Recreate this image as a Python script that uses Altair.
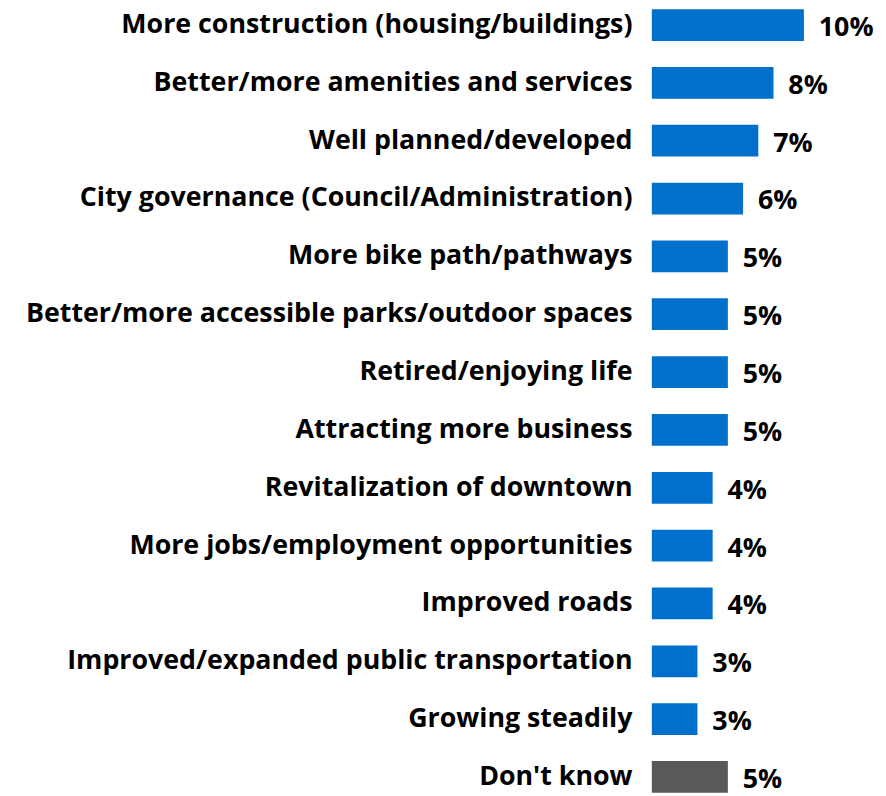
import altair as alt
import pandas as pd

categories = [
    "More construction (housing/buildings)",
    "Better/more amenities and services",
    "Well planned/developed",
    "City governance (Council/Administration)",
    "More bike path/pathways",
    "Better/more accessible parks/outdoor spaces",
    "Retired/enjoying life",
    "Attracting more business",
    "Revitalization of downtown",
    "More jobs/employment opportunities",
    "Improved roads",
    "Improved/expanded public transportation",
    "Growing steadily",
    "Don't know",
]
values = [10, 8, 7, 6, 5, 5, 5, 5, 4, 4, 4, 3, 3, 5]
groups = ["main"] * 13 + ["dk"]

df = pd.DataFrame({"cat": categories, "val": values, "grp": groups})
df["label"] = df["val"].astype(str) + "%"

FONT = "Open Sans"

y = alt.Y(
    "cat:N",
    sort=categories,
    title=None,
    scale=alt.Scale(paddingInner=0.451, paddingOuter=0, range=[0, 790]),
    axis=alt.Axis(
        labelFont=FONT,
        labelFontSize=27,
        labelFontWeight="bold",
        labelColor="#000000",
        labelLimit=700,
        labelPadding=20,
        ticks=False,
        domain=False,
        labelOffset=-4,
    ),
)
x = alt.X("val:Q", title=None, axis=None, scale=alt.Scale(domain=[0, 14.35], nice=False))

bars = alt.Chart(df).mark_bar(yOffset=-4).encode(
    x=x,
    y=y,
    color=alt.Color(
        "grp:N",
        scale=alt.Scale(domain=["main", "dk"], range=["#0070CC", "#58595B"]),
        legend=None,
    ),
)

text = alt.Chart(df).mark_text(
    align="left", baseline="middle", dx=15, dy=-1,
    font=FONT, fontSize=27, fontWeight="bold", color="#000000",
).encode(x=x, y=y, text="label:N")

chart = (
    alt.layer(bars, text)
    .properties(
        width=220,
        height=786,
        autosize=alt.AutoSizeParams(type="none"),
        padding={"left": 649, "top": 2, "right": 8, "bottom": 0},
    )
    .configure_view(stroke=None)
)

chart.save("out.html", embed_options={"renderer": "svg", "actions": False})
